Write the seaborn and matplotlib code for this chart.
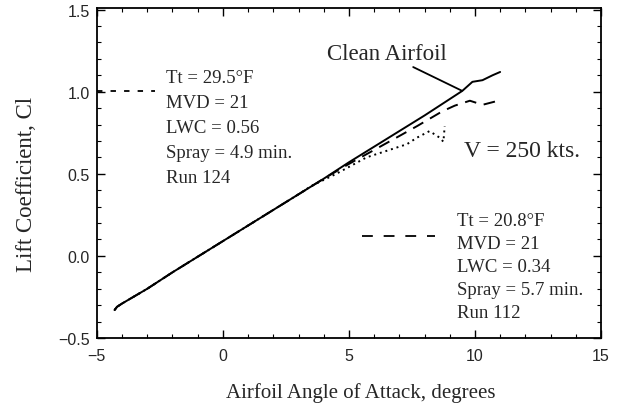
import matplotlib
matplotlib.use("Agg")
import matplotlib.pyplot as plt
import seaborn as sns
import pandas as pd

# ---- data ----
clean_aoa = [-4.3, -4.2, -4.0, -3.0, -2.0, -1.0, 0.0, 1.0, 2.0, 3.0, 4.0, 5.0,
             6.0, 7.0, 8.0, 8.9, 9.5, 9.9, 10.3, 10.7, 11.0]
clean_cl = [-0.33, -0.31, -0.29, -0.20, -0.10, -0.005, 0.09, 0.185, 0.28, 0.375,
            0.47, 0.57, 0.665, 0.76, 0.855, 0.945, 1.005, 1.06, 1.07, 1.10, 1.12]

run112_aoa = [-4.3, -4.2, -4.0, -3.0, -2.0, -1.0, 0.0, 1.0, 2.0, 3.0, 4.0, 5.0,
              6.0, 7.0, 7.7, 8.7, 9.2, 9.8, 10.3, 10.8, 10.9]
run112_cl = [-0.33, -0.31, -0.29, -0.20, -0.10, -0.005, 0.09, 0.185, 0.28, 0.375,
             0.47, 0.56, 0.645, 0.73, 0.79, 0.88, 0.915, 0.945, 0.92, 0.94, 0.935]

run124_aoa = [-4.3, -4.2, -4.0, -3.0, -2.0, -1.0, 0.0, 1.0, 2.0, 3.0, 3.5, 4.5,
              5.7, 7.3, 7.7, 8.2, 8.6, 8.75, 8.8]
run124_cl = [-0.33, -0.31, -0.29, -0.20, -0.10, -0.005, 0.09, 0.185, 0.28, 0.375,
             0.425, 0.50, 0.60, 0.68, 0.72, 0.76, 0.72, 0.695, 0.79]

series_names = ["Clean", "Run 112", "Run 124"]

x_ticks = [-5, 0, 5, 10, 15]
y_ticks = [-0.5, 0.0, 0.5, 1.0, 1.5]

lines_run124 = ["Tt = 29.5\u00b0F", "MVD = 21", "LWC = 0.56", "Spray = 4.9 min.", "Run 124"]
lines_run112 = ["Tt = 20.8\u00b0F", "MVD = 21", "LWC = 0.34", "Spray = 5.7 min.", "Run 112"]

# ---- build table ----
df = pd.concat([
    pd.DataFrame({"aoa": clean_aoa, "cl": clean_cl, "run": series_names[0]}),
    pd.DataFrame({"aoa": run112_aoa, "cl": run112_cl, "run": series_names[1]}),
    pd.DataFrame({"aoa": run124_aoa, "cl": run124_cl, "run": series_names[2]}),
], ignore_index=True)

sns.set_style("ticks")
plt.rcParams["font.family"] = ["Liberation Sans", "DejaVu Sans"]

fig = plt.figure(figsize=(6.17, 4.06), dpi=100)
ax = fig.add_axes([0.157, 0.165, 0.817, 0.813])

sns.lineplot(data=df, x="aoa", y="cl", hue="run", style="run",
             palette={n: "black" for n in series_names},
             dashes={"Clean": "", "Run 112": (6, 4), "Run 124": (1, 2.0)},
             sort=False, estimator=None, linewidth=1.4, legend=False, ax=ax)

ax.set_xlim(-5, 15)
ax.set_ylim(-0.5, 1.51)
ax.set_xticks(x_ticks)
ax.set_yticks(y_ticks)
ax.set_xticklabels([f"{t:d}".replace("-", "\u2212") for t in x_ticks], fontsize=11.5)
ax.set_yticklabels([f"{t:.1f}".replace("-", "\u2212") for t in y_ticks], fontsize=11.5)
ax.xaxis.set_minor_locator(matplotlib.ticker.MultipleLocator(1))
ax.yaxis.set_minor_locator(matplotlib.ticker.MultipleLocator(0.1))
ax.tick_params(which="both", direction="in", top=True, right=True, color="black")
ax.tick_params(which="major", length=6, width=1.0)
ax.tick_params(axis="x", which="major", pad=7)
ax.tick_params(axis="y", which="major", pad=5)
ax.tick_params(which="minor", length=3, width=0.8)
for s in ax.spines.values():
    s.set_linewidth(1.3)
    s.set_color("black")

serif = ["Liberation Serif", "DejaVu Serif"]
ax.set_xlabel("Airfoil Angle of Attack, degrees", fontsize=15, family=serif, labelpad=14)
ax.set_ylabel("Lift Coefficient, Cl", fontsize=16.5, family=serif, labelpad=15)
ax.xaxis.label.set_x(0.524)
ax.yaxis.label.set_y(0.467)

# annotations
ax.text(4.13, 1.20, "Clean Airfoil", fontsize=16.5, family=serif, va="baseline", ha="left")
ax.annotate("", xy=(9.48, 1.006), xytext=(7.55, 1.15),
            arrowprops=dict(arrowstyle="-", color="black", lw=1.3, shrinkA=0, shrinkB=0))
for i, line in enumerate(lines_run124):
    ax.annotate(line, xy=(-2.25, 1.061), xytext=(0, -18.0 * i), textcoords="offset points",
                fontsize=13.5, family=serif, va="baseline", ha="left")
for i, line in enumerate(lines_run112):
    ax.annotate(line, xy=(9.29, 0.189), xytext=(0, -16.6 * i), textcoords="offset points",
                fontsize=13.5, family=serif, va="baseline", ha="left")
ax.text(9.55, 0.61, "V = 250 kts.", fontsize=17, family=serif, va="baseline", ha="left")

# legend samples
ax.plot([0.0, 0.115], [0.748, 0.748], transform=ax.transAxes, color="black",
        lw=1.3, dashes=(3, 4.5))
ax.plot([0.525, 0.67], [0.308, 0.308], transform=ax.transAxes, color="black",
        lw=1.3, dashes=(6, 6))

fig.savefig("out.png", dpi=100)
